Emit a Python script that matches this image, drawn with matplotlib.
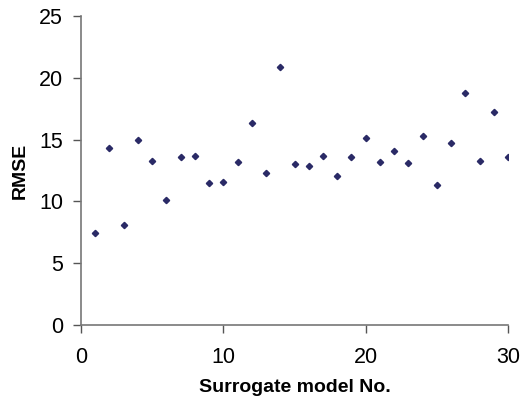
import numpy as np
import matplotlib.pyplot as plt

# data
model_no = np.arange(1, 31)
rmse = [7.45, 14.3, 8.07, 14.98, 13.28, 10.15, 13.6, 13.7, 11.47, 11.55,
        13.22, 16.32, 12.28, 20.9, 13.03, 12.9, 13.7, 12.03, 13.6, 15.1,
        13.22, 14.06, 13.14, 15.3, 11.34, 14.74, 18.79, 13.25, 17.27, 13.63]

plt.rcParams['font.family'] = ['Liberation Sans', 'DejaVu Sans']

fig = plt.figure(figsize=(5.22, 4.0), dpi=100)
ax = fig.add_axes([81/522, 75/400, 427/522, 309/400])

ax.plot(model_no, rmse, linestyle='none', marker='D', markersize=3.2,
        color='#2a2a66')

ax.set_xlim(0, 30)
ax.set_ylim(0, 25)
ax.set_xticks([0, 10, 20, 30])
ax.set_yticks([0, 5, 10, 15, 20, 25])

for s in ['top', 'right']:
    ax.spines[s].set_visible(False)
for s in ['left', 'bottom']:
    ax.spines[s].set_color('#777777')
    ax.spines[s].set_linewidth(1.2)

ax.tick_params(axis='both', direction='out', length=6, width=1.0,
               color='#555555', labelsize=15.5, labelcolor='black')
ax.tick_params(axis='y', pad=7)
ax.tick_params(axis='x', pad=10)

ax.set_xlabel('Surrogate model No.', fontsize=14, fontweight='bold', labelpad=8)
ax.set_ylabel('RMSE', fontsize=14, fontweight='bold', labelpad=7)

fig.savefig('out.png', dpi=100)
